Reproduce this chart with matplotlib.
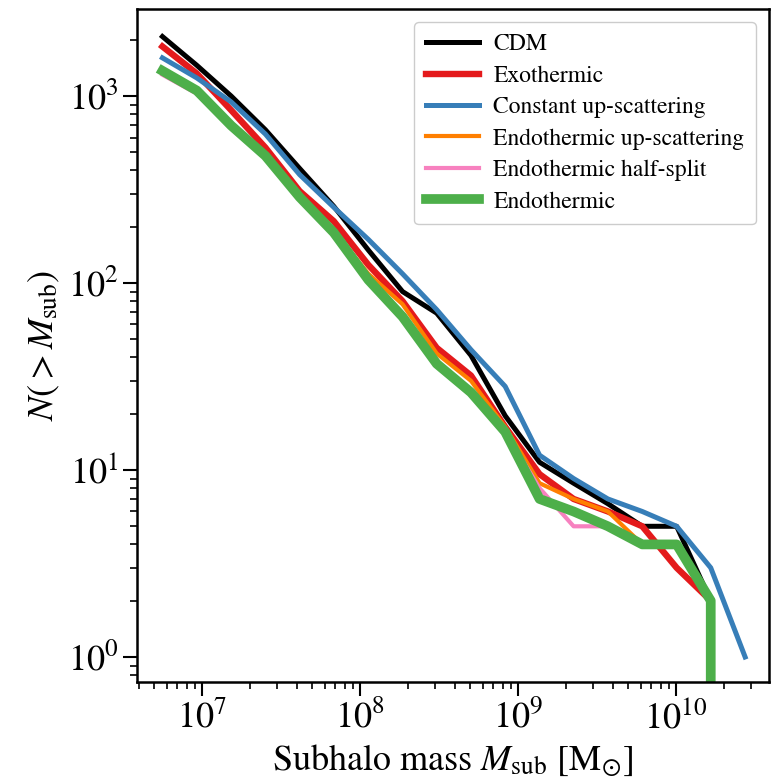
import numpy as np
import matplotlib
matplotlib.use('Agg')
import matplotlib.pyplot as plt

plt.rcParams['font.family'] = 'STIXGeneral'
plt.rcParams['mathtext.fontset'] = 'stix'

# subhalo mass bins (Msun) and cumulative counts N(>M)
mass = [5.62e6, 9.27e6, 1.53e7, 2.52e7, 4.15e7, 6.83e7, 1.13e8, 1.86e8, 3.06e8,
        5.04e8, 8.30e8, 1.37e9, 2.25e9, 3.71e9, 6.12e9, 1.01e10, 1.66e10, 2.74e10]

n_cdm = [2080, 1460, 1000, 660, 410, 257, 150, 90, 69, 41, 19.5, 11, 8.5, 6.6, 5, 5, 2, 0]
n_exo = [1840, 1320, 840, 530, 310, 214, 125, 80, 45, 32, 17, 9.5, 7, 6, 5, 3, 2, 0]
n_const_up = [1600, 1250, 930, 626, 380, 254, 171, 112, 72, 44, 28, 12, 9, 7, 6, 5, 3, 1]
n_endo_up = [1400, 1080, 700, 485, 295, 190, 112, 77, 42, 30, 17, 8.5, 7, 6, 4, 4, 2, 0]
n_endo_half = [1300, 1030, 670, 465, 280, 180, 102, 64, 36, 25, 16, 8, 5, 5, 4, 4, 2, 0]
n_endo = [1364, 1070, 695, 479, 288, 186, 104, 66, 37, 26, 16, 7, 6, 5, 4, 4, 2, 0]

fig = plt.figure(figsize=(7.71, 7.83), dpi=100)
ax = fig.add_axes([0.1777, 0.129, 0.8197, 0.8595])
ax.set_xscale('log')
ax.set_yscale('log')

ax.plot(mass, n_cdm, color='black', lw=3.6, label='CDM')
ax.plot(mass, n_exo, color='#e41a1c', lw=4.6, label='Exothermic')
ax.plot(mass, n_const_up, color='#377eb8', lw=3.6, label='Constant up-scattering')
ax.plot(mass, n_endo_up, color='#ff7f00', lw=3.0, label='Endothermic up-scattering')
ax.plot(mass, n_endo_half, color='#f781bf', lw=3.0, label='Endothermic half-split')
ax.plot(mass, n_endo, color='#4daf4a', lw=7.0, label='Endothermic')

ax.set_xlim(3.88e6, 3.88e10)
ax.set_ylim(0.735, 2920)

ax.set_xlabel(r'Subhalo mass $M_{\rm sub}$ [M$_{\odot}$]', fontsize=26)
ax.set_ylabel(r'$N(>M_{\rm sub})$', fontsize=26)
ax.tick_params(which='major', labelsize=26, length=10, width=1.5)
ax.tick_params(which='minor', length=5, width=1.2)
for s in ax.spines.values():
    s.set_linewidth(1.8)

leg = ax.legend(loc='upper right', fontsize=17, handlelength=2.25, framealpha=1,
                edgecolor='#cccccc', borderpad=0.5, labelspacing=0.42,
                handletextpad=0.6, borderaxespad=0.55)

fig.savefig('out.png', dpi=100)
